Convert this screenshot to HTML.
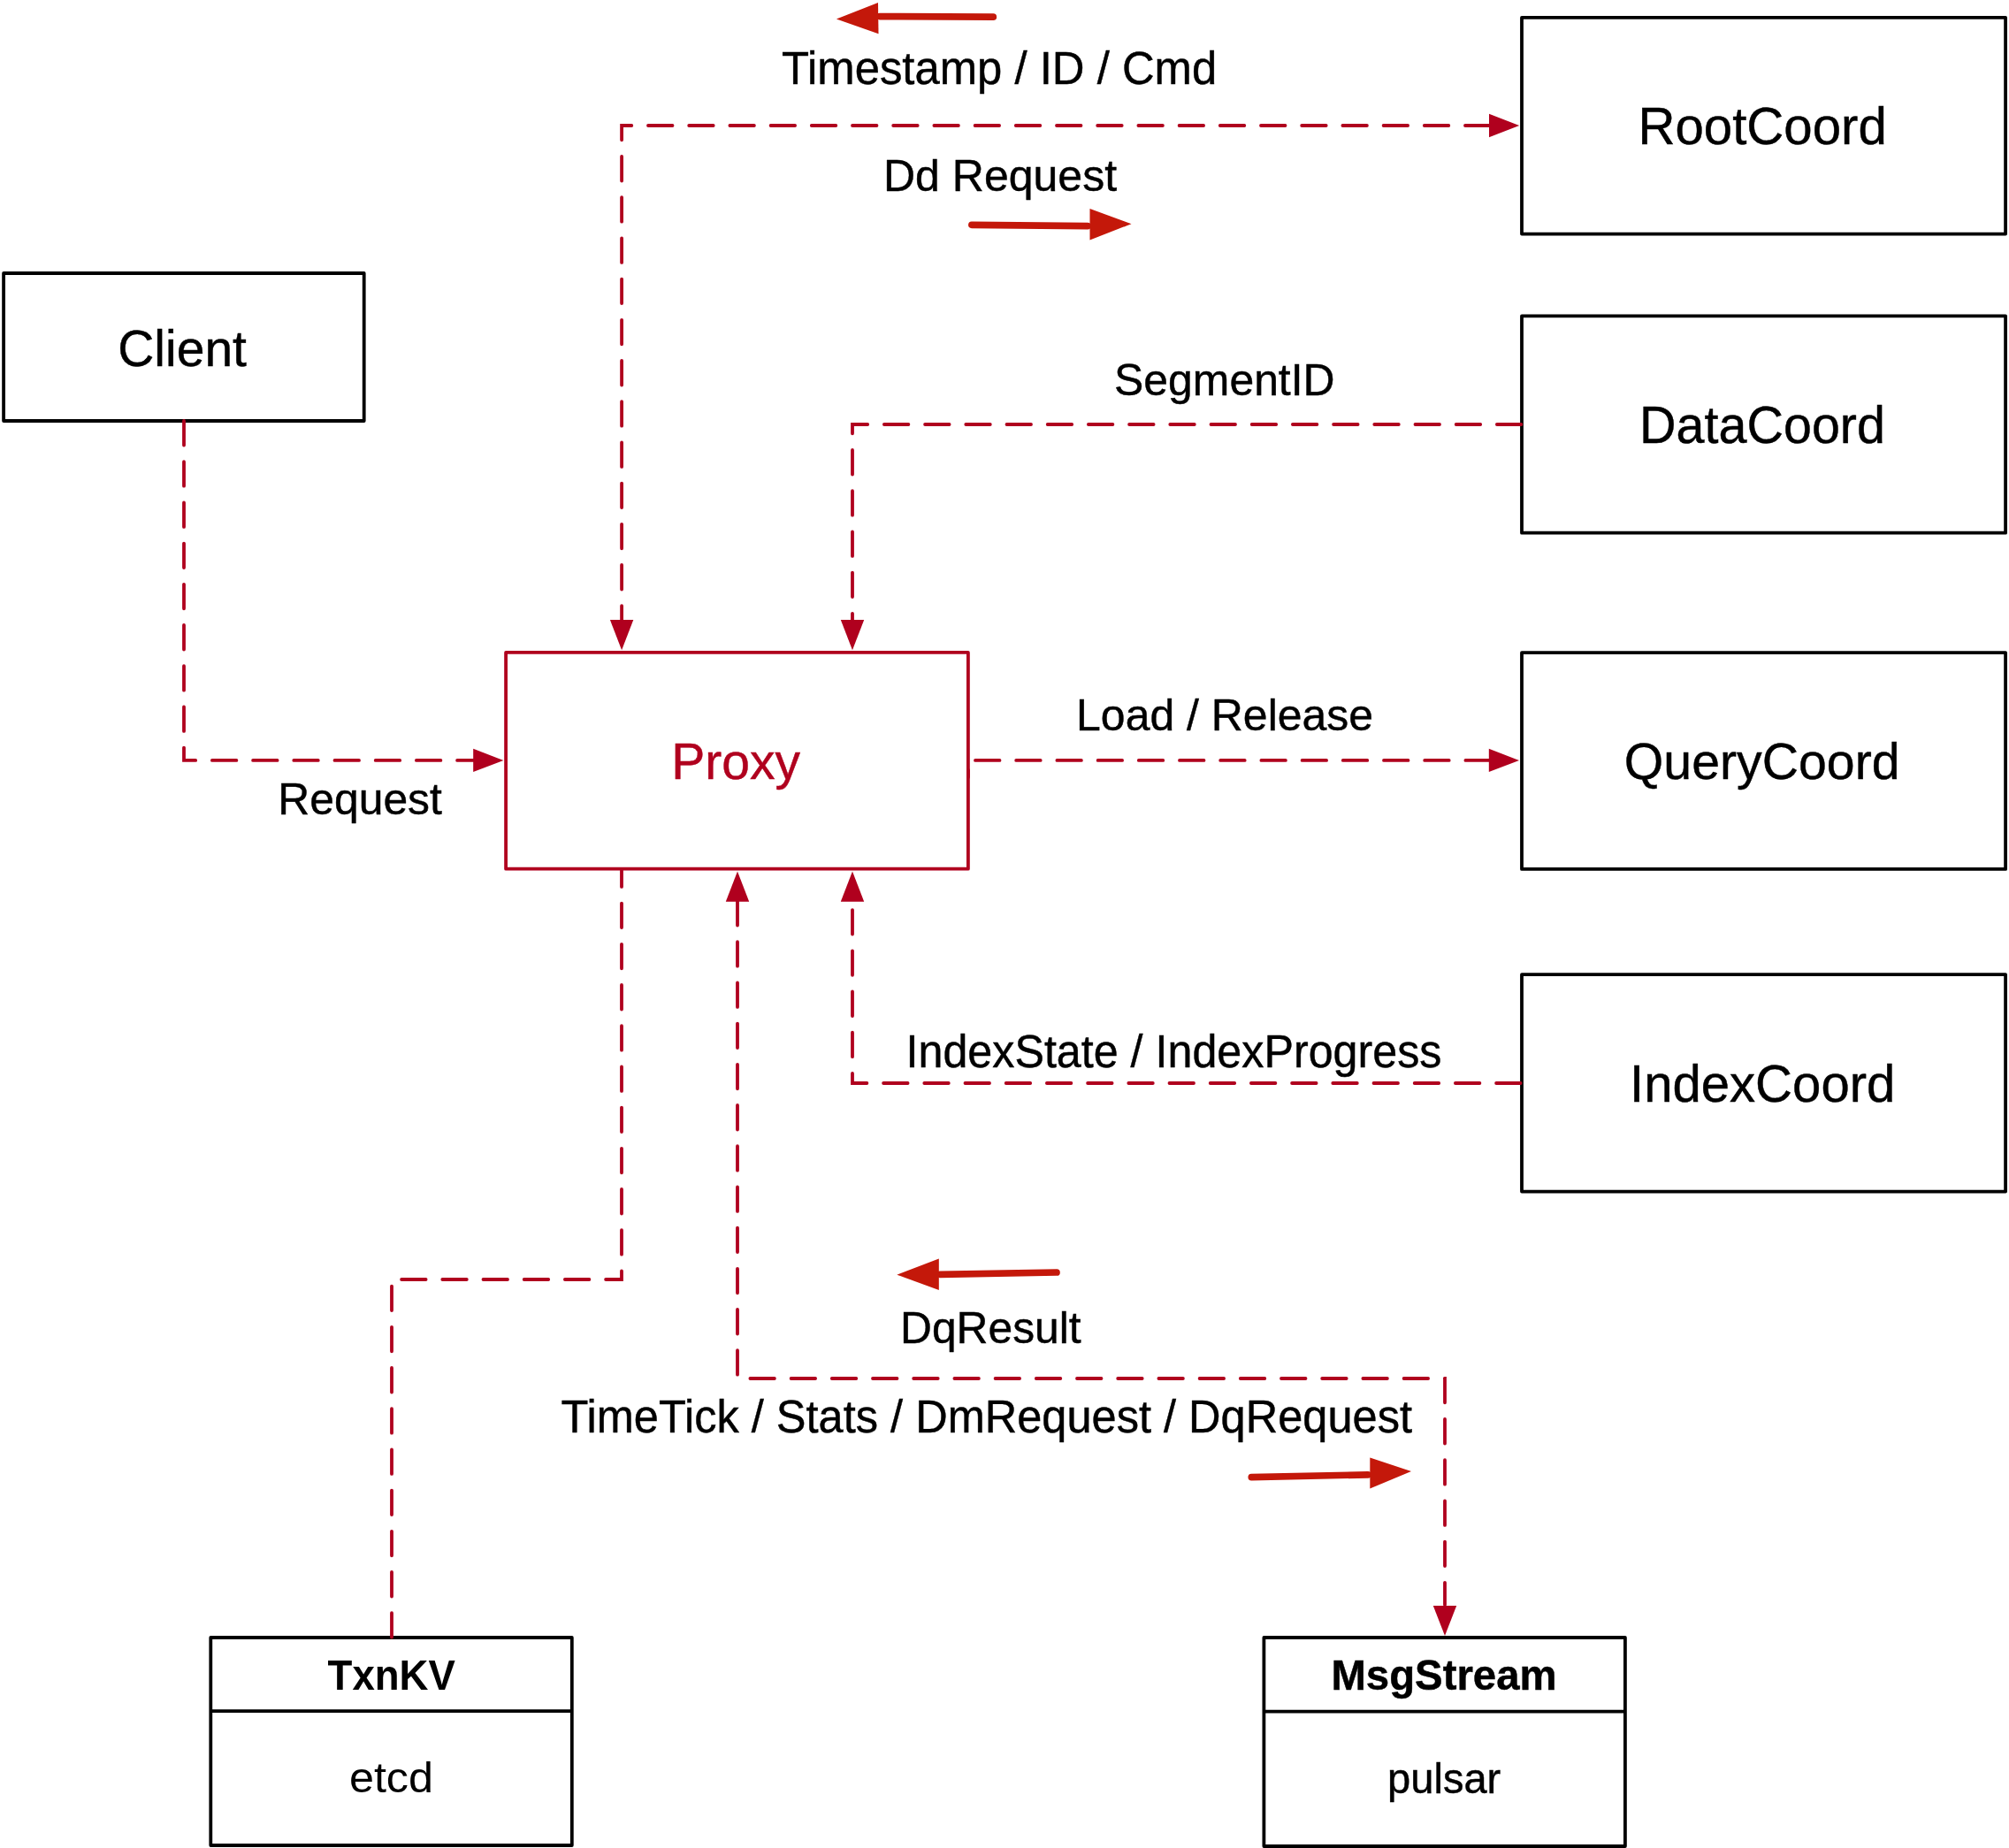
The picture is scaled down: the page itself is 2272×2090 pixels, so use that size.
<!DOCTYPE html>
<html><head><meta charset="utf-8"><style>
html,body{margin:0;padding:0;background:#fff;overflow:hidden}
svg{display:block;will-change:transform}
text{font-family:"Liberation Sans",sans-serif}
</style></head><body>
<svg width="2272" height="2090" viewBox="0 0 2272 2090">
<rect width="2272" height="2090" fill="#fff"/>
<rect x="4.1" y="309" width="407.60" height="167.00" fill="none" stroke="#000" stroke-width="3.8" stroke-linejoin="round"/>
<rect x="1721" y="19.9" width="547.10" height="244.70" fill="none" stroke="#000" stroke-width="3.8" stroke-linejoin="round"/>
<rect x="1721" y="357.4" width="547.10" height="245.30" fill="none" stroke="#000" stroke-width="3.8" stroke-linejoin="round"/>
<rect x="1721" y="738.2" width="547.10" height="244.70" fill="none" stroke="#000" stroke-width="3.8" stroke-linejoin="round"/>
<rect x="1721" y="1102.2" width="547.10" height="245.40" fill="none" stroke="#000" stroke-width="3.8" stroke-linejoin="round"/>
<rect x="572.1" y="737.9" width="522.80" height="244.80" fill="none" stroke="#b0001e" stroke-width="3.8" stroke-linejoin="round"/>
<rect x="238.3" y="1852" width="408.50" height="235.00" fill="none" stroke="#000" stroke-width="3.8" stroke-linejoin="round"/>
<line x1="238.3" y1="1935.1" x2="646.8" y2="1935.1" stroke="#000" stroke-width="3.8"/>
<rect x="1429.4" y="1852" width="408.50" height="236.00" fill="none" stroke="#000" stroke-width="3.8" stroke-linejoin="round"/>
<line x1="1429.4" y1="1935.7" x2="1837.9" y2="1935.7" stroke="#000" stroke-width="3.8"/>
<path d="M1684.5,142 H703.1 V701" fill="none" stroke="#b0001e" stroke-width="3.8" stroke-dasharray="27.5 18.7" stroke-dashoffset="0" stroke-linecap="round" stroke-linejoin="miter"/>
<path d="M1720.4,480 H964 V701" fill="none" stroke="#b0001e" stroke-width="3.8" stroke-dasharray="27.5 18.7" stroke-dashoffset="0" stroke-linecap="round" stroke-linejoin="miter"/>
<path d="M208,476 V859.9 H535.3" fill="none" stroke="#b0001e" stroke-width="3.8" stroke-dasharray="27.5 18.7" stroke-dashoffset="0" stroke-linecap="round" stroke-linejoin="miter"/>
<path d="M1103,859.9 H1684" fill="none" stroke="#b0001e" stroke-width="3.8" stroke-dasharray="27.5 18.7" stroke-dashoffset="0" stroke-linecap="round" stroke-linejoin="miter"/>
<path d="M1719.6,1225 H964 V1019.7" fill="none" stroke="#b0001e" stroke-width="3.8" stroke-dasharray="27.5 18.7" stroke-dashoffset="0" stroke-linecap="round" stroke-linejoin="miter"/>
<path d="M703,984.6 V1447 H443 V1852" fill="none" stroke="#b0001e" stroke-width="3.8" stroke-dasharray="27.5 18.7" stroke-dashoffset="9.2" stroke-linecap="round" stroke-linejoin="miter"/>
<path d="M834,1019 V1559 H1634 V1815" fill="none" stroke="#b0001e" stroke-width="3.8" stroke-dasharray="27.5 18.7" stroke-dashoffset="0" stroke-linecap="round" stroke-linejoin="miter"/>
<line x1="1095" y1="871" x2="1095" y2="879" stroke="#b0001e" stroke-width="3.8" stroke-linecap="round"/>
<polygon points="1718.2,142.0 1684.0,128.8 1684.0,155.2" fill="#b0001e"/>
<polygon points="1718.0,859.9 1683.8,846.7 1683.8,873.1" fill="#b0001e"/>
<polygon points="569.4,859.9 535.2,846.7 535.2,873.1" fill="#b0001e"/>
<polygon points="703.1,735.2 689.9,701.0 716.3,701.0" fill="#b0001e"/>
<polygon points="964.0,735.2 950.8,701.0 977.2,701.0" fill="#b0001e"/>
<polygon points="964.0,985.5 950.8,1019.7 977.2,1019.7" fill="#b0001e"/>
<polygon points="834.0,985.5 820.8,1019.7 847.2,1019.7" fill="#b0001e"/>
<polygon points="1634.0,1850.1 1620.8,1815.9 1647.2,1815.9" fill="#b0001e"/>
<line x1="1123.3" y1="19.2" x2="995" y2="18.6" stroke="#c4180a" stroke-width="7.7" stroke-linecap="round"/><polygon points="945.9,21.4 993,3.1 993.5,38.3" fill="#c4180a"/>
<line x1="1098.9" y1="254.3" x2="1230" y2="255.6" stroke="#c4180a" stroke-width="7.7" stroke-linecap="round"/><polygon points="1279.5,253.2 1232.5,236.1 1232.5,271.5" fill="#c4180a"/>
<line x1="1195" y1="1439" x2="1063" y2="1441.3" stroke="#c4180a" stroke-width="7.7" stroke-linecap="round"/><polygon points="1014.3,1441.7 1061.8,1423.4 1061.8,1459" fill="#c4180a"/>
<line x1="1415.3" y1="1670.7" x2="1547" y2="1667.8" stroke="#c4180a" stroke-width="7.7" stroke-linecap="round"/><polygon points="1596,1664 1549.3,1648.4 1549.3,1683.6" fill="#c4180a"/>
<text transform="translate(133.2,413.8) scale(1,1.015)" font-size="57.03" fill="#000" stroke="#000" stroke-width="0.45" font-weight="normal">Client</text>
<text transform="translate(1852.4,162.9) scale(1,1.015)" font-size="58.22" fill="#000" stroke="#000" stroke-width="0.45" font-weight="normal">RootCoord</text>
<text transform="translate(1854.1,500.8) scale(1,1.015)" font-size="57.47" fill="#000" stroke="#000" stroke-width="0.45" font-weight="normal">DataCoord</text>
<text transform="translate(1836.8,881) scale(1,1.015)" font-size="57.25" fill="#000" stroke="#000" stroke-width="0.45" font-weight="normal">QueryCoord</text>
<text transform="translate(1843.0,1246.2) scale(1,1.015)" font-size="58.11" fill="#000" stroke="#000" stroke-width="0.45" font-weight="normal">IndexCoord</text>
<text transform="translate(883.9,95.1) scale(1,1.015)" font-size="50.83" fill="#000" stroke="#000" stroke-width="0.45" font-weight="normal">Timestamp / ID / Cmd</text>
<text transform="translate(999.0,216.1) scale(1,1.015)" font-size="50.01" fill="#000" stroke="#000" stroke-width="0.45" font-weight="normal">Dd Request</text>
<text transform="translate(1260.1,446.7) scale(1,1.015)" font-size="49.89" fill="#000" stroke="#000" stroke-width="0.45" font-weight="normal">SegmentID</text>
<text transform="translate(1217.1,826.2) scale(1,1.015)" font-size="49.95" fill="#000" stroke="#000" stroke-width="0.45" font-weight="normal">Load / Release</text>
<text transform="translate(314.3,920.9) scale(1,1.015)" font-size="49.82" fill="#000" stroke="#000" stroke-width="0.45" font-weight="normal">Request</text>
<text transform="translate(1024.5,1206.7) scale(1,1.015)" font-size="50.24" fill="#000" stroke="#000" stroke-width="0.45" font-weight="normal">IndexState / IndexProgress</text>
<text transform="translate(1018.0,1518.9) scale(1,1.015)" font-size="49.78" fill="#000" stroke="#000" stroke-width="0.45" font-weight="normal">DqResult</text>
<text transform="translate(634.5,1620.1) scale(1,1.015)" font-size="50.55" fill="#000" stroke="#000" stroke-width="0.45" font-weight="normal">TimeTick / Stats / DmRequest / DqRequest</text>
<text transform="translate(1569.1,2027.5) scale(1,1.015)" font-size="47.08" fill="#000" stroke="#000" stroke-width="0.45" font-weight="normal">pulsar</text>
<text transform="translate(397,2027.1) scale(1.0625,1)" x="-2.01" y="0" font-size="47.4" fill="#000">etcd</text>
<text transform="translate(759.2,880.9) scale(1,1.015)" font-size="57.08" fill="#b0001e" stroke="#b0001e" stroke-width="0.45" font-weight="normal">Proxy</text>
<text transform="translate(371.1,1911.2) scale(0.9614,1)" x="-0.53" y="0" font-size="47.4" font-weight="bold" fill="#000">TxnKV</text>
<text transform="translate(1505.4,1911.4) scale(1,1.015)" font-size="47.36" fill="#000" stroke="#000" stroke-width="0.45" font-weight="bold">MsgStream</text>
</svg></body></html>
